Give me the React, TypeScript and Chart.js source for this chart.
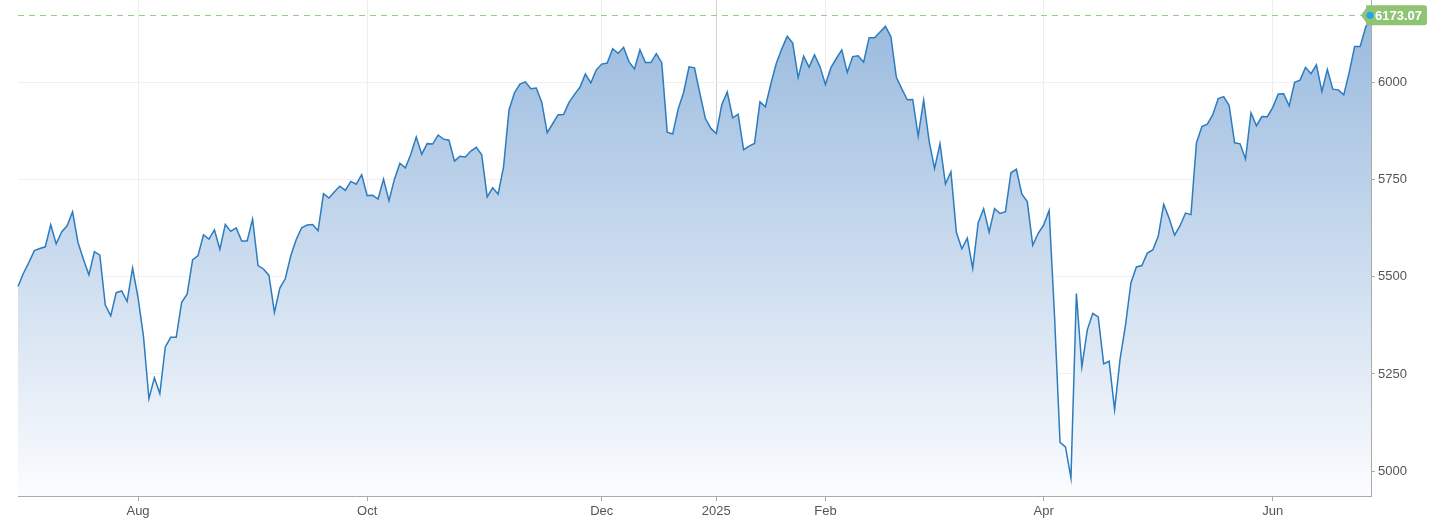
import React, { useEffect, useRef } from 'react';
import { Chart, registerables } from 'chart.js';

Chart.register(...registerables);

// Trading days (categories)
const dates: string[] = [
  '2024-07-01','2024-07-02','2024-07-03','2024-07-05','2024-07-08','2024-07-09','2024-07-10','2024-07-11','2024-07-12','2024-07-15','2024-07-16','2024-07-17','2024-07-18','2024-07-19','2024-07-22','2024-07-23','2024-07-24','2024-07-25','2024-07-26','2024-07-29','2024-07-30','2024-07-31',
  '2024-08-01','2024-08-02','2024-08-05','2024-08-06','2024-08-07','2024-08-08','2024-08-09','2024-08-12','2024-08-13','2024-08-14','2024-08-15','2024-08-16','2024-08-19','2024-08-20','2024-08-21','2024-08-22','2024-08-23','2024-08-26','2024-08-27','2024-08-28','2024-08-29','2024-08-30',
  '2024-09-03','2024-09-04','2024-09-05','2024-09-06','2024-09-09','2024-09-10','2024-09-11','2024-09-12','2024-09-13','2024-09-16','2024-09-17','2024-09-18','2024-09-19','2024-09-20','2024-09-23','2024-09-24','2024-09-25','2024-09-26','2024-09-27','2024-09-30',
  '2024-10-01','2024-10-02','2024-10-03','2024-10-04','2024-10-07','2024-10-08','2024-10-09','2024-10-10','2024-10-11','2024-10-14','2024-10-15','2024-10-16','2024-10-17','2024-10-18','2024-10-21','2024-10-22','2024-10-23','2024-10-24','2024-10-25','2024-10-28','2024-10-29','2024-10-30','2024-10-31',
  '2024-11-01','2024-11-04','2024-11-05','2024-11-06','2024-11-07','2024-11-08','2024-11-11','2024-11-12','2024-11-13','2024-11-14','2024-11-15','2024-11-18','2024-11-19','2024-11-20','2024-11-21','2024-11-22','2024-11-25','2024-11-26','2024-11-27','2024-11-29',
  '2024-12-02','2024-12-03','2024-12-04','2024-12-05','2024-12-06','2024-12-09','2024-12-10','2024-12-11','2024-12-12','2024-12-13','2024-12-16','2024-12-17','2024-12-18','2024-12-19','2024-12-20','2024-12-23','2024-12-24','2024-12-26','2024-12-27','2024-12-30','2024-12-31',
  '2025-01-02','2025-01-03','2025-01-06','2025-01-07','2025-01-08','2025-01-10','2025-01-13','2025-01-14','2025-01-15','2025-01-16','2025-01-17','2025-01-21','2025-01-22','2025-01-23','2025-01-24','2025-01-27','2025-01-28','2025-01-29','2025-01-30','2025-01-31',
  '2025-02-03','2025-02-04','2025-02-05','2025-02-06','2025-02-07','2025-02-10','2025-02-11','2025-02-12','2025-02-13','2025-02-14','2025-02-18','2025-02-19','2025-02-20','2025-02-21','2025-02-24','2025-02-25','2025-02-26','2025-02-27','2025-02-28',
  '2025-03-03','2025-03-04','2025-03-05','2025-03-06','2025-03-07','2025-03-10','2025-03-11','2025-03-12','2025-03-13','2025-03-14','2025-03-17','2025-03-18','2025-03-19','2025-03-20','2025-03-21','2025-03-24','2025-03-25','2025-03-26','2025-03-27','2025-03-28','2025-03-31',
  '2025-04-01','2025-04-02','2025-04-03','2025-04-04','2025-04-07','2025-04-08','2025-04-09','2025-04-10','2025-04-11','2025-04-14','2025-04-15','2025-04-16','2025-04-17','2025-04-21','2025-04-22','2025-04-23','2025-04-24','2025-04-25','2025-04-28','2025-04-29','2025-04-30',
  '2025-05-01','2025-05-02','2025-05-05','2025-05-06','2025-05-07','2025-05-08','2025-05-09','2025-05-12','2025-05-13','2025-05-14','2025-05-15','2025-05-16','2025-05-19','2025-05-20','2025-05-21','2025-05-22','2025-05-23','2025-05-27','2025-05-28','2025-05-29','2025-05-30',
  '2025-06-02','2025-06-03','2025-06-04','2025-06-05','2025-06-06','2025-06-09','2025-06-10','2025-06-11','2025-06-12','2025-06-13','2025-06-16','2025-06-17','2025-06-18','2025-06-20','2025-06-23','2025-06-24','2025-06-25','2025-06-26','2025-06-27',
];

// Closing values
const closes: number[] = [
  5475.09,5509.01,5537.02,5567.19,5572.85,5576.98,5633.91,5584.54,5615.35,5631.22,5667.20,5588.27,5544.59,5505.00,5564.41,5555.74,5427.13,5399.22,5459.10,5463.54,5436.44,5522.30,
  5446.68,5346.56,5186.33,5240.03,5199.50,5319.31,5344.16,5344.39,5434.43,5455.21,5543.22,5554.25,5608.25,5597.12,5620.85,5570.64,5634.61,5616.84,5625.80,5592.18,5591.96,5648.40,
  5528.93,5520.07,5503.41,5408.42,5471.05,5495.52,5554.13,5595.76,5626.02,5633.09,5634.58,5618.26,5713.64,5702.55,5718.57,5732.93,5722.26,5745.37,5738.17,5762.48,
  5708.75,5709.54,5699.94,5751.07,5695.94,5751.13,5792.04,5780.05,5815.03,5859.85,5815.26,5842.47,5841.47,5864.67,5853.98,5851.20,5797.42,5809.86,5808.12,5823.52,5832.92,5813.67,5705.45,
  5728.80,5712.69,5782.76,5929.04,5973.10,5995.54,6001.35,5983.99,5985.38,5949.17,5870.62,5893.62,5916.98,5917.11,5948.71,5969.34,5987.37,6021.63,5998.74,6032.38,
  6047.15,6049.88,6086.49,6075.11,6090.27,6052.85,6034.91,6084.19,6051.09,6051.09,6074.08,6050.61,5872.16,5867.08,5930.85,5974.07,6040.04,6037.59,5970.84,5906.94,5881.63,
  5868.55,5942.47,5975.38,5909.03,5918.25,5827.04,5836.22,5842.91,5949.91,5937.34,5996.66,6049.24,6086.37,6118.71,6101.24,6012.28,6067.70,6039.31,6071.17,6040.53,
  5994.57,6037.88,6061.48,6083.57,6025.99,6066.44,6068.50,6051.97,6115.07,6114.63,6129.58,6144.15,6117.52,6013.13,5983.25,5955.25,5956.06,5861.57,5954.50,
  5849.72,5778.15,5842.63,5738.52,5770.20,5614.56,5572.07,5599.30,5521.52,5638.94,5675.12,5614.66,5675.29,5662.89,5667.56,5767.57,5776.65,5712.20,5693.31,5580.94,5611.85,
  5633.07,5670.97,5396.52,5074.08,5062.25,4982.77,5456.90,5268.05,5363.36,5405.97,5396.63,5275.70,5282.70,5158.20,5287.76,5375.86,5484.77,5525.21,5528.75,5560.83,5569.06,
  5604.14,5686.67,5650.38,5606.91,5631.28,5663.94,5659.91,5844.19,5886.55,5892.58,5916.93,5958.38,5963.60,5940.46,5844.61,5842.01,5802.82,5921.54,5888.55,5912.17,5911.69,
  5935.94,5970.37,5970.81,5939.30,6000.36,6005.88,6038.81,6022.24,6045.26,5976.97,6033.11,5982.72,5980.87,5967.84,6025.17,6092.18,6092.16,6141.02,6173.07,
];

const yTicks: number[] = [5000, 5250, 5500, 5750, 6000];
const tickMonths: string[] = ['2024-08', '2024-10', '2024-12', '2025-01', '2025-02', '2025-04', '2025-06'];
const monthNames: string[] = ['Jan', 'Feb', 'Mar', 'Apr', 'May', 'Jun', 'Jul', 'Aug', 'Sep', 'Oct', 'Nov', 'Dec'];
const lastLabel = '6173.07';

const FONT = "'Liberation Sans', Arial, sans-serif";

const tickIndices = tickMonths.map((m) => dates.findIndex((d) => d.startsWith(m)));

const fmtTick = (idx: number): string => {
  const d = dates[idx];
  if (!d) return '';
  const month = parseInt(d.slice(5, 7), 10);
  return month === 1 ? d.slice(0, 4) : monthNames[month - 1];
};

const lastValuePlugin = {
  id: 'lastValue',
  beforeDatasetsDraw(chart: any) {
    const { ctx, chartArea, scales } = chart;
    const last = closes[closes.length - 1];
    const y = Math.round(scales.y.getPixelForValue(last)) + 0.5;
    const x = scales.x.getPixelForValue(closes.length - 1);
    ctx.save();
    ctx.setLineDash([6, 5]);
    ctx.strokeStyle = '#94cc8a';
    ctx.lineWidth = 1;
    ctx.beginPath();
    ctx.moveTo(chartArea.left, y);
    ctx.lineTo(x - 8, y);
    ctx.stroke();
    ctx.restore();
  },
  afterDatasetsDraw(chart: any) {
    const { ctx, scales } = chart;
    const last = closes[closes.length - 1];
    const y = scales.y.getPixelForValue(last);
    const x = scales.x.getPixelForValue(closes.length - 1);
    ctx.save();
    ctx.font = `bold 13px ${FONT}`;
    const tw = ctx.measureText(lastLabel).width;
    const tip = x - 10;
    const bx = x - 5;
    const bw = tw + 14;
    const bh = 20;
    const top = y - bh / 2;
    const r = 3;
    ctx.fillStyle = '#8ec474';
    ctx.beginPath();
    ctx.moveTo(tip, y);
    ctx.lineTo(bx, top + 3);
    ctx.lineTo(bx, top);
    ctx.lineTo(bx + bw - r, top);
    ctx.quadraticCurveTo(bx + bw, top, bx + bw, top + r);
    ctx.lineTo(bx + bw, top + bh - r);
    ctx.quadraticCurveTo(bx + bw, top + bh, bx + bw - r, top + bh);
    ctx.lineTo(bx, top + bh);
    ctx.lineTo(bx, top + bh - 3);
    ctx.closePath();
    ctx.fill();
    ctx.fillStyle = '#ffffff';
    ctx.textAlign = 'left';
    ctx.textBaseline = 'middle';
    ctx.fillText(lastLabel, bx + 9, y + 1);
    ctx.fillStyle = '#22a3ee';
    ctx.beginPath();
    ctx.arc(x - 1, y, 3.5, 0, Math.PI * 2);
    ctx.fill();
    ctx.restore();
  },
};

export default function App() {
  const canvasRef = useRef<HTMLCanvasElement | null>(null);

  useEffect(() => {
    const canvas = canvasRef.current;
    if (!canvas) return;
    const chart = new Chart(canvas, {
      type: 'line',
      data: {
        labels: dates,
        datasets: [
          {
            data: closes,
            borderColor: '#2c7cbf',
            borderWidth: 1.5,
            pointRadius: 0,
            pointHoverRadius: 0,
            tension: 0,
            fill: 'start',
            backgroundColor: (c: any) => {
              const { chart: ch } = c;
              const area = ch.chartArea;
              if (!area) return 'rgba(160,190,225,0.6)';
              const g = ch.ctx.createLinearGradient(0, area.top, 0, area.bottom);
              g.addColorStop(0, '#96b8dd');
              g.addColorStop(1, '#fbfcfe');
              return g;
            },
          },
        ],
      },
      options: {
        animation: false,
        responsive: true,
        maintainAspectRatio: false,
        layout: { autoPadding: false, padding: { left: 18, top: 0, right: 0, bottom: 0 } },
        plugins: {
          legend: { display: false },
          tooltip: { enabled: false },
        },
        scales: {
          x: {
            type: 'category',
            offset: false,
            afterBuildTicks: (scale: any) => {
              scale.ticks = tickIndices.map((i) => ({ value: i }));
            },
            afterFit: (scale: any) => {
              scale.height = 32;
              scale.paddingLeft = 0;
              scale.paddingRight = 0;
            },
            ticks: {
              autoSkip: false,
              maxRotation: 0,
              minRotation: 0,
              padding: 3,
              color: '#555555',
              font: { family: FONT, size: 13 },
              callback: (value: any) => fmtTick(Number(value)),
            },
            grid: {
              color: (c: any) => {
                const v = c.tick ? c.tick.value : -1;
                return dates[v] && dates[v].slice(5, 7) === '01' ? '#d2d2d2' : '#eeeeee';
              },
              tickColor: '#aaaaaa',
              tickLength: 5,
            },
            border: { color: '#aaaaaa' },
          },
          y: {
            position: 'right',
            min: 4936,
            max: 6212,
            afterBuildTicks: (scale: any) => {
              scale.ticks = yTicks.map((v) => ({ value: v }));
            },
            afterFit: (scale: any) => {
              scale.width = 62;
              scale.paddingTop = 0;
              scale.paddingBottom = 0;
            },
            ticks: {
              padding: 3,
              color: '#555555',
              font: { family: FONT, size: 13 },
              callback: (value: any) => String(value),
            },
            grid: {
              color: '#f0f0f0',
              tickColor: '#aaaaaa',
              tickLength: 4,
            },
            border: { color: '#aaaaaa' },
          },
        },
      },
      plugins: [lastValuePlugin],
    });
    return () => chart.destroy();
  }, []);

  return (
    <div style={{ position: 'fixed', left: 0, top: 0, width: 1433, height: 528, background: '#ffffff' }}>
      <canvas ref={canvasRef} />
    </div>
  );
}
